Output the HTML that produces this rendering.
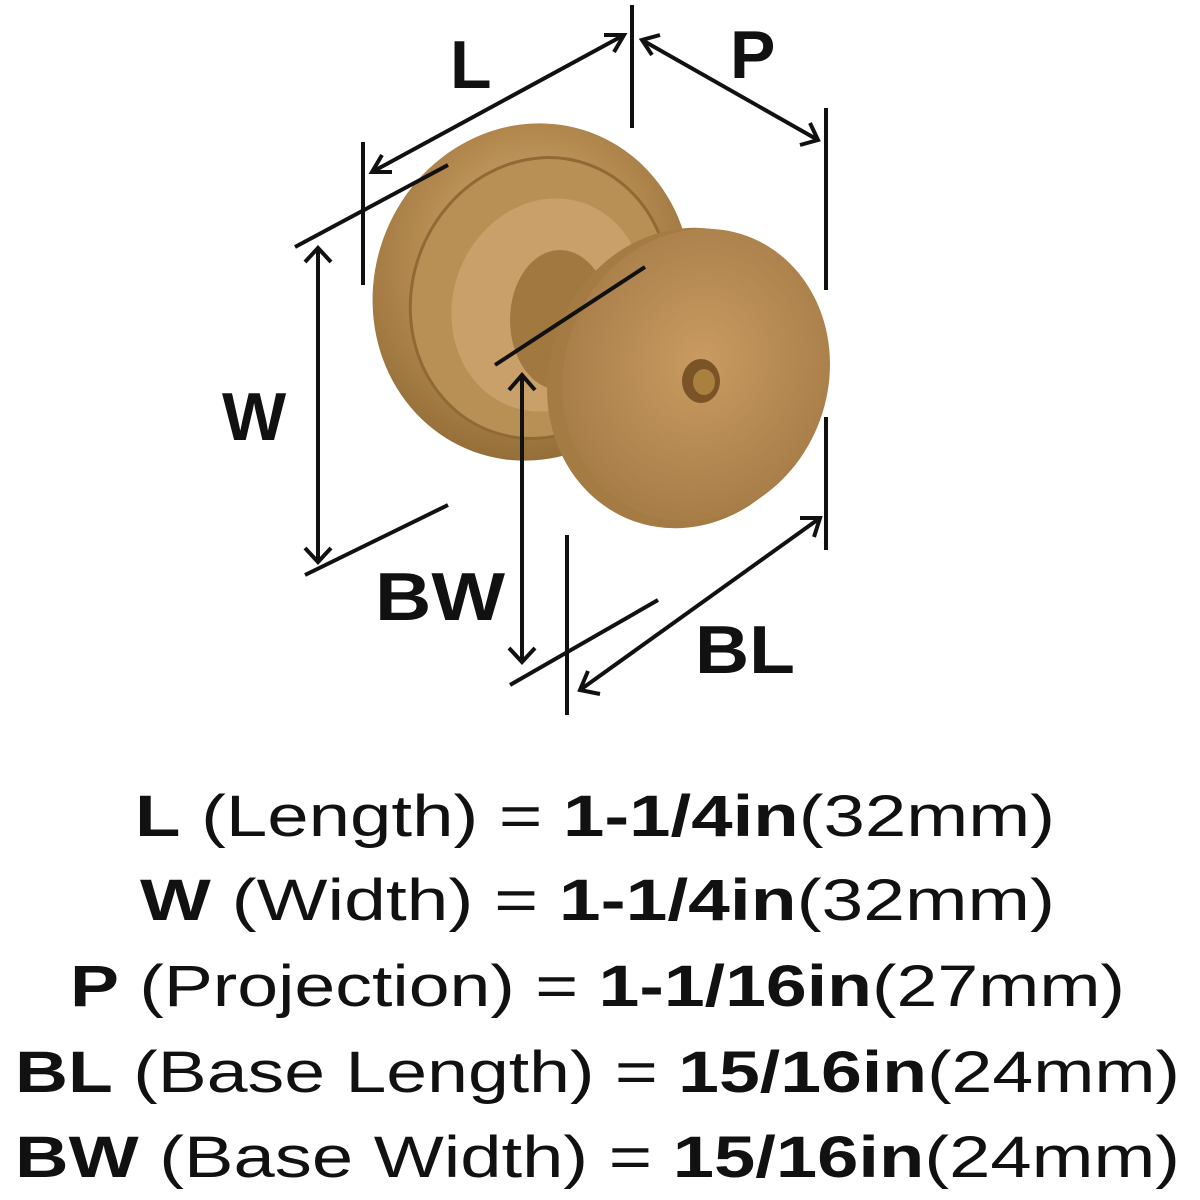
<!DOCTYPE html>
<html><head><style>
html,body{margin:0;padding:0;background:#fff;width:1200px;height:1200px;overflow:hidden}
</style></head><body>
<svg width="1200" height="1200" viewBox="0 0 1200 1200" xmlns="http://www.w3.org/2000/svg">
<defs>
<radialGradient id="g1" cx="0.45" cy="0.4" r="0.7">
<stop offset="0" stop-color="#d9b582"/><stop offset="0.5" stop-color="#b48a50"/><stop offset="1" stop-color="#8a6530"/>
</radialGradient>
<radialGradient id="g2" cx="0.5" cy="0.45" r="0.6">
<stop offset="0" stop-color="#c99b62"/><stop offset="1" stop-color="#a47a45"/>
</radialGradient>
</defs>
<!-- back rosette -->
<ellipse cx="532" cy="292" rx="158" ry="170" transform="rotate(20 532 292)" fill="url(#g1)"/>
<ellipse cx="540" cy="298" rx="128" ry="142" transform="rotate(20 540 298)" fill="#b88f55" stroke="#8f6a35" stroke-width="3"/>
<ellipse cx="548" cy="305" rx="95" ry="108" transform="rotate(20 548 305)" fill="#c9a06a"/>
<ellipse cx="560" cy="320" rx="50" ry="70" fill="#a07840"/>
<!-- front disk edge -->
<ellipse cx="685" cy="378" rx="136" ry="152" transform="rotate(20 685 378)" fill="#a57b44"/>
<ellipse cx="696" cy="375" rx="132" ry="148" transform="rotate(20 696 375)" fill="url(#g2)"/>
<ellipse cx="701" cy="381" rx="19" ry="22" fill="#7a5426"/>
<ellipse cx="704" cy="382" rx="11" ry="13" fill="#a9803f"/>
<g stroke="#111" stroke-width="4" fill="none" stroke-linecap="butt">
<!-- L -->
<line x1="372" y1="172" x2="624" y2="35"/>
<polyline points="392,172 372,172 382,155"/>
<polyline points="604,35 624,35 614,52"/>
<line x1="363" y1="142" x2="363" y2="285"/>
<line x1="632" y1="5" x2="632" y2="128"/>
<line x1="295" y1="247" x2="448" y2="165"/>
<!-- P -->
<line x1="642" y1="40" x2="818" y2="140"/>
<polyline points="660,35 642,40 652,55"/>
<polyline points="800,145 818,140 810,123"/>
<line x1="826" y1="108" x2="826" y2="290"/>
<!-- W -->
<line x1="318" y1="250" x2="318" y2="560"/>
<polyline points="305,262 318,248 331,262"/>
<polyline points="305,548 318,562 331,548"/>
<line x1="305" y1="575" x2="448" y2="505"/>
<!-- BW -->
<line x1="495" y1="365" x2="645" y2="267"/>
<line x1="522" y1="377" x2="522" y2="660"/>
<polyline points="509,390 522,375 535,390"/>
<polyline points="509,648 522,662 535,648"/>
<line x1="510" y1="685" x2="658" y2="600"/>
<!-- BL -->
<line x1="580" y1="690" x2="820" y2="518"/>
<polyline points="600,694 580,690 588,671"/>
<polyline points="800,518 820,518 814,537"/>
<line x1="567" y1="535" x2="567" y2="715"/>
<line x1="826" y1="417" x2="826" y2="550"/>
</g>
<g font-family="'Liberation Sans', sans-serif" font-weight="bold" fill="#111" font-size="68">
<text x="450" y="88">L</text>
<text x="730" y="78">P</text>
<text x="222" y="440">W</text>
<text x="375" y="620" textLength="130" lengthAdjust="spacingAndGlyphs">BW</text>
<text x="695" y="673" textLength="100" lengthAdjust="spacingAndGlyphs">BL</text>
</g>
<g font-family="'Liberation Sans', sans-serif" fill="#111" font-size="58">
<text x="135" y="836" textLength="920" lengthAdjust="spacingAndGlyphs"><tspan font-weight="bold">L</tspan> (Length) = <tspan font-weight="bold">1-1/4in</tspan>(32mm)</text>
<text x="140" y="920" textLength="915" lengthAdjust="spacingAndGlyphs"><tspan font-weight="bold">W</tspan> (Width) = <tspan font-weight="bold">1-1/4in</tspan>(32mm)</text>
<text x="70" y="1006" textLength="1055" lengthAdjust="spacingAndGlyphs"><tspan font-weight="bold">P</tspan> (Projection) = <tspan font-weight="bold">1-1/16in</tspan>(27mm)</text>
<text x="15" y="1092" textLength="1165" lengthAdjust="spacingAndGlyphs"><tspan font-weight="bold">BL</tspan> (Base Length) = <tspan font-weight="bold">15/16in</tspan>(24mm)</text>
<text x="15" y="1177" textLength="1165" lengthAdjust="spacingAndGlyphs"><tspan font-weight="bold">BW</tspan> (Base Width) = <tspan font-weight="bold">15/16in</tspan>(24mm)</text>
</g>
</svg>
</body></html>
